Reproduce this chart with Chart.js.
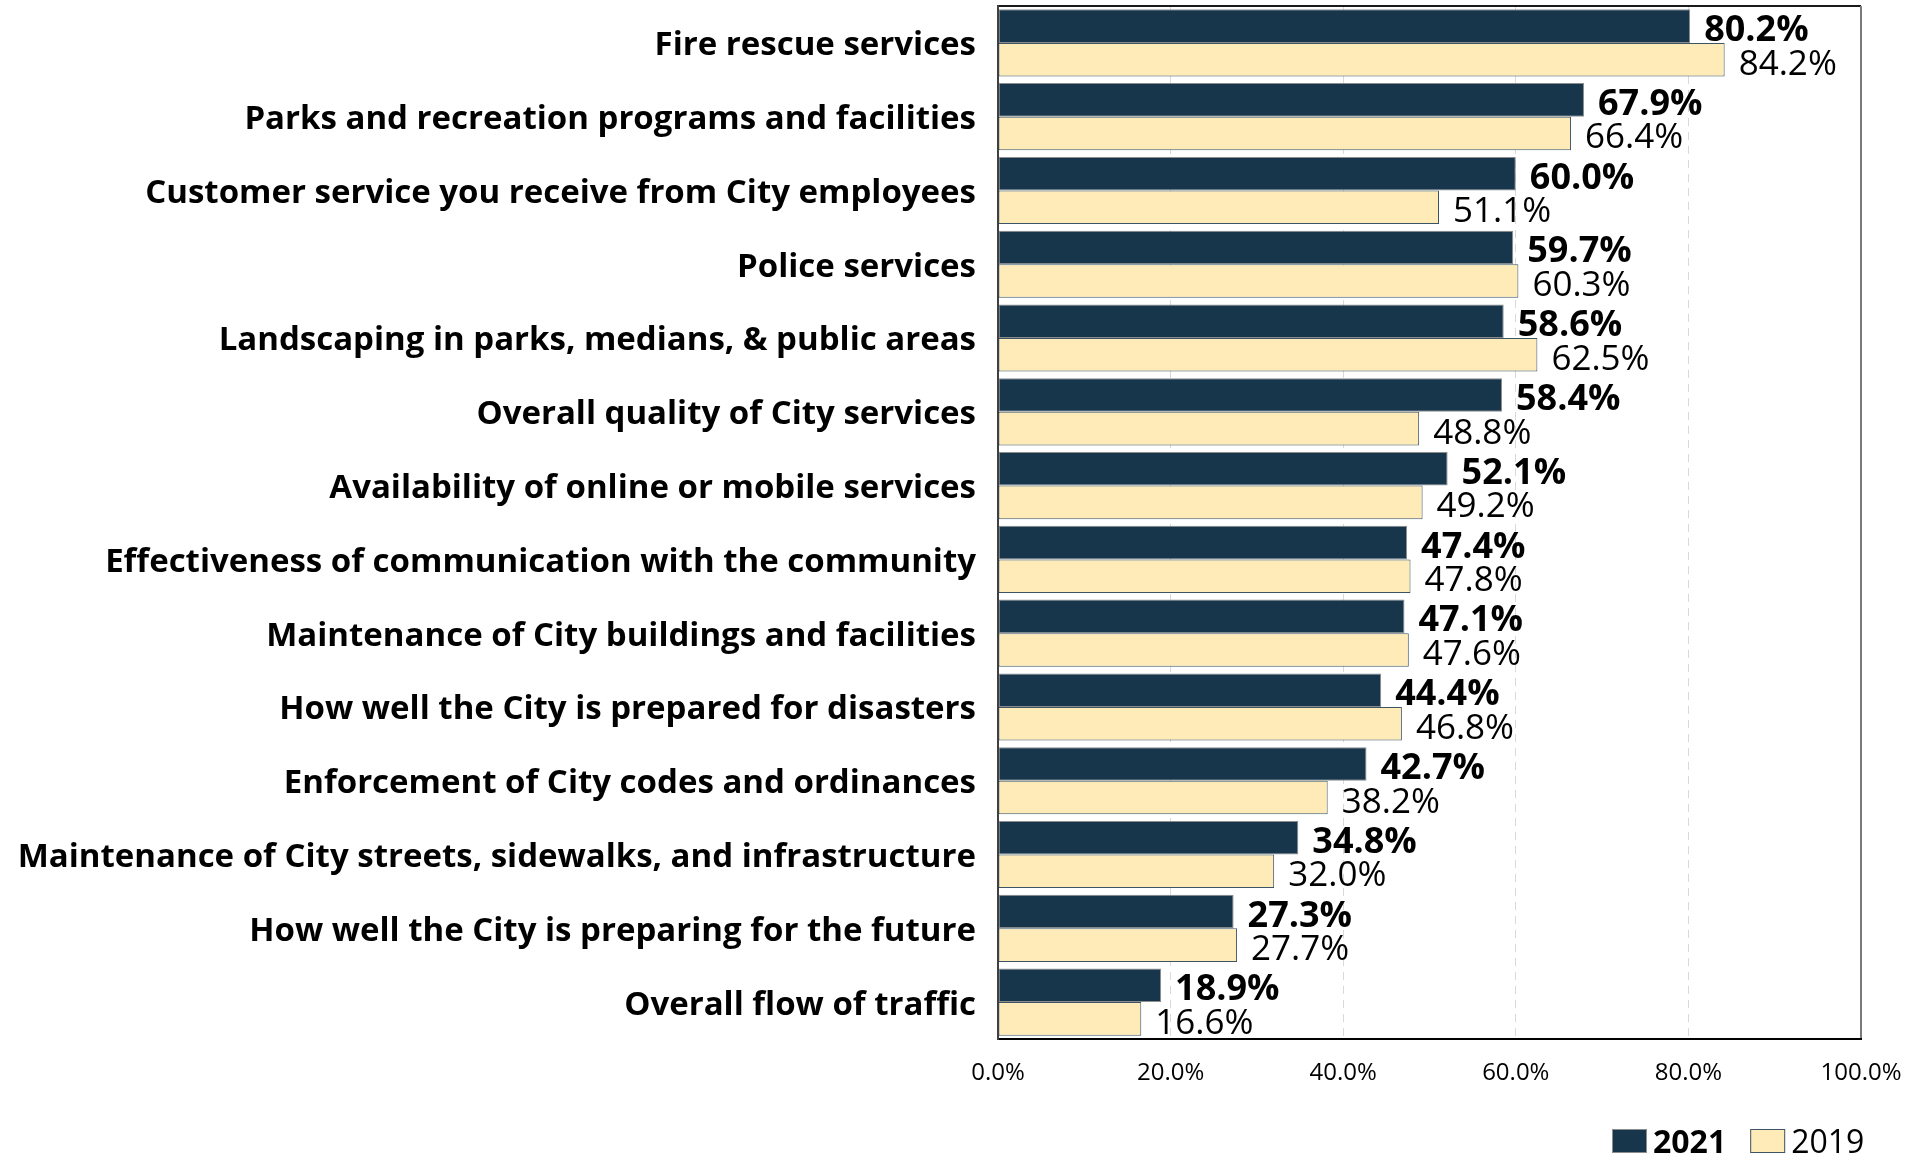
<!DOCTYPE html>
<html>
<head>
<meta charset="utf-8">
<script src="https://cdn.jsdelivr.net/npm/chart.js@4/dist/chart.umd.min.js"></script>
<style>
  html, body { margin: 0; padding: 0; background: #ffffff; }
  #wrap { width: 1921px; height: 1156px; }
</style>
</head>
<body>
<div id="wrap"><canvas id="c" width="1921" height="1156"></canvas></div>
<script>
// Service satisfaction by category, 2021 vs 2019 (percent)
const categories = [
  'Fire rescue services',
  'Parks and recreation programs and facilities',
  'Customer service you receive from City employees',
  'Police services',
  'Landscaping in parks, medians, & public areas',
  'Overall quality of City services',
  'Availability of online or mobile services',
  'Effectiveness of communication with the community',
  'Maintenance of City buildings and facilities',
  'How well the City is prepared for disasters',
  'Enforcement of City codes and ordinances',
  'Maintenance of City streets, sidewalks, and infrastructure',
  'How well the City is preparing for the future',
  'Overall flow of traffic'
];
const seriesNames = ['2021', '2019'];
const values2021 = [80.2, 67.9, 60.0, 59.7, 58.6, 58.4, 52.1, 47.4, 47.1, 44.4, 42.7, 34.8, 27.3, 18.9];
const values2019 = [84.2, 66.4, 51.1, 60.3, 62.5, 48.8, 49.2, 47.8, 47.6, 46.8, 38.2, 32.0, 27.7, 16.6];
const xTickValues = [0, 20, 40, 60, 80, 100];

const FONT = "'Open Sans', 'DejaVu Sans', sans-serif";
const NAVY = '#17364b';
const CREAM = '#ffebb8';

// Value labels to the right of each bar
const valueLabels = {
  id: 'valueLabels',
  afterDatasetsDraw(chart) {
    const ctx = chart.ctx;
    ctx.save();
    ctx.fillStyle = '#000';
    ctx.textAlign = 'left';
    ctx.textBaseline = 'alphabetic';
    chart.data.datasets.forEach((ds, di) => {
      const meta = chart.getDatasetMeta(di);
      ctx.font = di === 0 ? 'bold 36px ' + FONT : '35px ' + FONT;
      meta.data.forEach((el, i) => {
        const v = ds.data[i];
        ctx.fillText(v.toFixed(1) + '%', el.x + 14, el.y + 15);
      });
    });
    ctx.restore();
  }
};

// Frame around the plot area
const plotFrame = {
  id: 'plotFrame',
  afterDatasetsDraw(chart) {
    const { ctx, chartArea: a } = chart;
    ctx.save();
    ctx.lineWidth = 2;
    const seg = (x1, y1, x2, y2, c) => {
      ctx.strokeStyle = c;
      ctx.beginPath(); ctx.moveTo(x1, y1); ctx.lineTo(x2, y2); ctx.stroke();
    };
    seg(a.left, a.top, a.right, a.top, '#1a1a1a');
    seg(a.right, a.top, a.right, a.bottom, '#7a7a7a');
    seg(a.left, a.bottom, a.right + 1, a.bottom, '#000000');
    seg(a.left, a.top - 1, a.left, a.bottom + 1, '#404040');
    ctx.restore();
  }
};

// Legend in the lower right, 2021 in bold
const cornerLegend = {
  id: 'cornerLegend',
  afterDraw(chart) {
    const ctx = chart.ctx;
    const ds = chart.data.datasets;
    ctx.save();
    ctx.textBaseline = 'alphabetic';
    ctx.textAlign = 'left';
    let x = 1612;
    const top = 1129, h = 24, w = 35, base = 1153;
    ds.forEach((d, i) => {
      ctx.fillStyle = d.backgroundColor;
      ctx.fillRect(x, top, w, h);
      ctx.lineWidth = 1;
      ctx.strokeStyle = d.borderColor;
      ctx.strokeRect(x + 0.5, top + 0.5, w - 1, h - 1);
      x += w + 6;
      ctx.font = (i === 0 ? 'bold ' : '') + '32px ' + FONT;
      ctx.fillStyle = '#000';
      ctx.fillText(d.label, x, base);
      x += ctx.measureText(d.label).width + 24;
    });
    ctx.restore();
  }
};

new Chart(document.getElementById('c'), {
  type: 'bar',
  data: {
    labels: categories,
    datasets: [
      {
        label: seriesNames[0],
        data: values2021,
        backgroundColor: NAVY,
        borderColor: '#8c8c8c',
        borderWidth: 1,
        borderSkipped: false,
        categoryPercentage: 0.91,
        barPercentage: 1.0
      },
      {
        label: seriesNames[1],
        data: values2019,
        backgroundColor: CREAM,
        borderColor: '#3b5566',
        borderWidth: 1,
        borderSkipped: false,
        categoryPercentage: 0.91,
        barPercentage: 1.0
      }
    ]
  },
  options: {
    indexAxis: 'y',
    responsive: false,
    devicePixelRatio: 1,
    animation: false,
    layout: { padding: { top: 6, right: 60, left: 0, bottom: 0 } },
    plugins: {
      legend: { display: false },
      tooltip: { enabled: false }
    },
    scales: {
      x: {
        min: 0,
        max: 100,
        afterBuildTicks(scale) {
          scale.ticks = xTickValues.map(v => ({ value: v }));
        },
        afterFit(scale) {
          scale.height = 117;
          scale.paddingLeft = 0;
          scale.paddingRight = 0;
        },
        ticks: {
          padding: 20,
          color: '#000',
          font: { family: FONT, size: 24 },
          callback: v => Number(v).toFixed(1) + '%'
        },
        grid: { color: '#d9d9d9', lineWidth: 1, drawTicks: false },
        border: { display: false, dash: [8, 6] }
      },
      y: {
        afterFit(scale) {
          scale.width = 998;
          scale.paddingTop = 0;
          scale.paddingBottom = 0;
        },
        ticks: {
          padding: 22,
          labelOffset: 3,
          color: '#000',
          font: { family: FONT, size: 33, weight: 'bold' }
        },
        grid: { display: false, drawTicks: false },
        border: { display: false }
      }
    }
  },
  plugins: [valueLabels, plotFrame, cornerLegend]
});
</script>
</body>
</html>
